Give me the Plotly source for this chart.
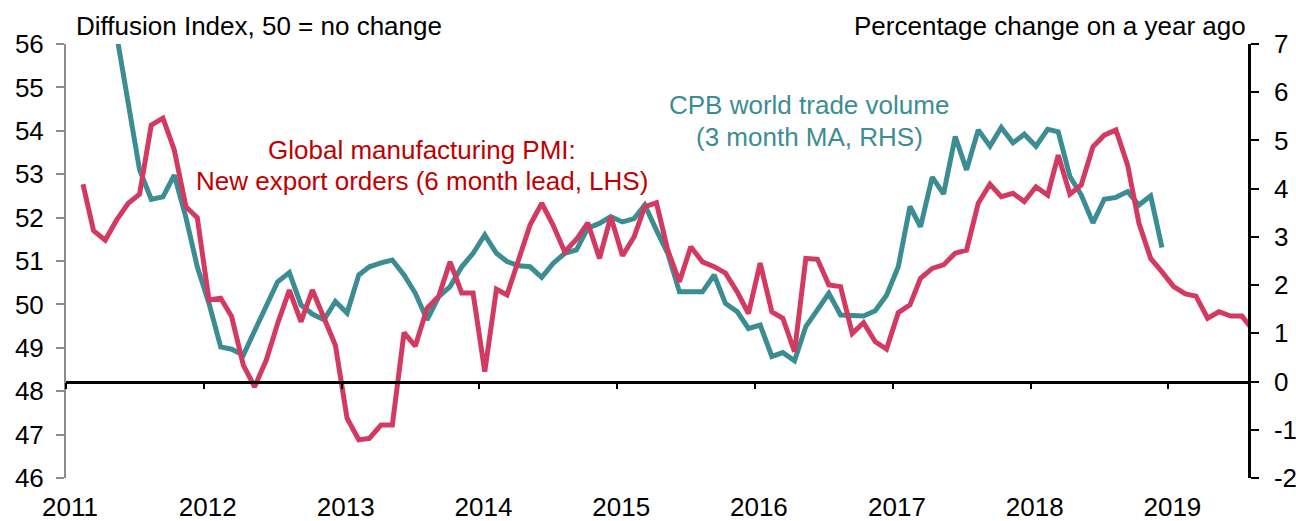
import pandas as pd
import plotly.graph_objects as go

# ---- data ----
pmi_start = "2011-01-15"
pmi_export_orders = [
    52.77, 51.70, 51.48, 51.94, 52.33, 52.54, 54.13, 54.29, 53.56, 52.25,
    52.00, 50.10, 50.14, 49.72, 48.60, 48.10, 48.72, 49.56, 50.33, 49.60,
    50.33, 49.72, 49.06, 47.38, 46.88, 46.91, 47.22, 47.22, 49.35, 49.04,
    49.91, 50.19, 50.98, 50.26, 50.26, 48.45, 50.35, 50.22, 51.02, 51.83,
    52.33, 51.83, 51.21, 51.50, 51.88, 51.06, 52.02, 51.12, 51.56, 52.25,
    52.34, 51.25, 50.52, 51.33, 50.98, 50.87, 50.72, 50.29, 49.79, 50.95,
    49.83, 49.68, 48.91, 51.06, 51.04, 50.45, 50.41, 49.33, 49.58, 49.14,
    48.97, 49.81, 49.99, 50.60, 50.83, 50.91, 51.18, 51.25, 52.33, 52.77,
    52.48, 52.56, 52.37, 52.71, 52.52, 53.44, 52.54, 52.75, 53.63, 53.90,
    54.02, 53.21, 51.87, 51.06, 50.75, 50.41, 50.24, 50.19, 49.68, 49.83,
    49.73, 49.73, 49.39,
]

trade_start = "2011-01-15"
cpb_trade_volume = [
    11.2, 10.0, 8.6, 7.2, 5.78, 4.39, 3.78, 3.83, 4.28, 3.40,
    2.38, 1.62, 0.72, 0.67, 0.55, 1.07, 1.59, 2.07, 2.26, 1.59,
    1.40, 1.28, 1.66, 1.42, 2.21, 2.38, 2.46, 2.52, 2.21, 1.83,
    1.28, 1.76, 1.97, 2.38, 2.66, 3.04, 2.66, 2.49, 2.40, 2.38,
    2.16, 2.45, 2.66, 2.73, 3.18, 3.28, 3.42, 3.31, 3.38, 3.66,
    3.14, 2.66, 1.86, 1.86, 1.86, 2.21, 1.62, 1.45, 1.10, 1.17,
    0.52, 0.60, 0.43, 1.14, 1.48, 1.83, 1.38, 1.38, 1.36, 1.47,
    1.79, 2.38, 3.63, 3.21, 4.24, 3.89, 5.08, 4.39, 5.22, 4.88,
    5.27, 4.95, 5.13, 4.88, 5.23, 5.18, 4.25, 3.87, 3.29, 3.78,
    3.82, 3.94, 3.66, 3.85, 2.78,
]

left_ticks = [46, 47, 48, 49, 50, 51, 52, 53, 54, 55, 56]
right_ticks = [-2, -1, 0, 1, 2, 3, 4, 5, 6, 7]
right_tick_text = ["-2", "-1", "0", "1", "2", "3", "4", "5", "6", "7"]

left_title = "Diffusion Index, 50 = no change"
right_title = "Percentage change on a year ago"
pmi_label = ["Global manufacturing PMI:", "New export orders (6 month lead, LHS)"]
trade_label = ["CPB world trade volume", "(3 month MA, RHS)"]

pmi_dates = pd.date_range(pmi_start, periods=len(pmi_export_orders), freq="MS") + pd.Timedelta(days=14)
trade_dates = pd.date_range(trade_start, periods=len(cpb_trade_volume), freq="MS") + pd.Timedelta(days=14)

RED = "#D23A62"
TEAL = "#3C8D93"
RED_TEXT = "#C00000"
FONT = "Liberation Sans, Arial, sans-serif"
FS = 26
x_range = ["2011-01-01", "2019-07-31"]

fig = go.Figure()
fig.add_trace(go.Scatter(x=trade_dates, y=cpb_trade_volume, mode="lines",
                         line=dict(color=TEAL, width=5), xaxis="x", yaxis="y",
                         showlegend=False))
fig.add_trace(go.Scatter(x=pmi_dates, y=pmi_export_orders, mode="lines",
                         line=dict(color=RED, width=5), xaxis="x2", yaxis="y2",
                         showlegend=False))

fig.update_layout(
    width=1296, height=521,
    margin=dict(l=66, r=48, t=44, b=43),
    paper_bgcolor="white", plot_bgcolor="white",
    font=dict(family=FONT, size=FS, color="black"),
    showlegend=False,
    xaxis=dict(type="date", range=x_range, tick0="2011-01-01", dtick="M12",
               tickformat="%Y", showgrid=False, zeroline=False, showline=False,
               ticks="", ticklabelstandoff=11, ticklabelshift=4, automargin=False,
               tickfont=dict(size=FS)),
    xaxis2=dict(type="date", range=x_range, tick0="2011-01-01", dtick="M12",
                overlaying="x", anchor="free", position=2/9, side="bottom",
                showgrid=False, zeroline=False, showline=True, linecolor="black",
                linewidth=2.5, ticks="outside", ticklen=6, tickwidth=2,
                tickcolor="black", showticklabels=False, automargin=False),
    yaxis=dict(range=[-2, 7], tickmode="array", tickvals=right_ticks,
               ticktext=right_tick_text, side="right", showgrid=False,
               zeroline=False, showline=True, linecolor="black", linewidth=2.5,
               ticks="outside", ticklen=8, tickwidth=2, tickcolor="black",
               ticklabelstandoff=10, automargin=False, tickfont=dict(size=FS)),
    yaxis2=dict(range=[46, 56], tickmode="array", tickvals=left_ticks,
                side="left", overlaying="y",
                showgrid=False, zeroline=False, showline=True,
                linecolor="#8c8c8c", linewidth=2, ticks="outside", ticklen=8,
                tickwidth=2, tickcolor="#8c8c8c", ticklabelstandoff=7,
                automargin=False, tickfont=dict(size=FS)),
)

def px_x(X):
    return (X - 66) / 1182

def px_y(Y):
    return (478 - Y) / 434

annotations = [
    dict(text=left_title, x=px_x(74), y=px_y(26), xanchor="left", yanchor="middle",
         font=dict(color="black", size=FS)),
    dict(text=right_title, x=1.0, y=px_y(26), xanchor="right", yanchor="middle",
         font=dict(color="black", size=FS)),
    dict(text=pmi_label[0], x=px_x(422), y=px_y(150), xanchor="center", yanchor="middle",
         font=dict(color=RED_TEXT, size=FS)),
    dict(text=pmi_label[1], x=px_x(422), y=px_y(181), xanchor="center", yanchor="middle",
         font=dict(color=RED_TEXT, size=FS)),
    dict(text=trade_label[0], x=px_x(809), y=px_y(105), xanchor="center", yanchor="middle",
         font=dict(color=TEAL, size=FS)),
    dict(text=trade_label[1], x=px_x(809), y=px_y(137), xanchor="center", yanchor="middle",
         font=dict(color=TEAL, size=FS)),
]
for a in annotations:
    a.update(xref="paper", yref="paper", showarrow=False)
fig.update_layout(annotations=annotations)

fig.write_html("out.html", config={"displayModeBar": False},
               post_script="document.body.style.margin='0';document.body.style.overflow='hidden';")
